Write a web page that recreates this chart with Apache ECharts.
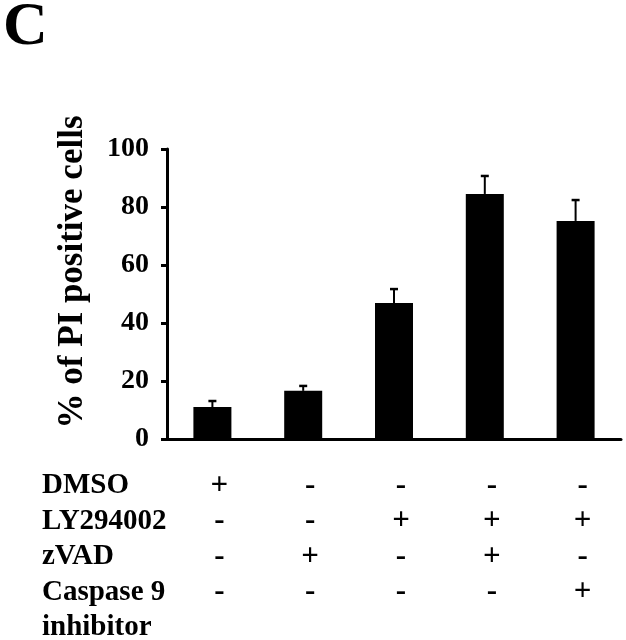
<!DOCTYPE html>
<html>
<head>
<meta charset="utf-8">
<script src="https://cdn.jsdelivr.net/npm/echarts@6/dist/echarts.min.js"></script>
<style>
html,body{margin:0;padding:0;background:#fff;}
#chart{width:626px;height:640px;}
</style>
</head>
<body>
<div id="chart"></div>
<script>
// ---- data ----
const categories = ['DMSO', 'zVAD', 'LY294002', 'LY294002 + zVAD', 'LY294002 + Caspase 9 inhibitor'];
const pctMean = [11.0, 16.6, 46.9, 84.5, 75.2];
const pctErr = [2.1, 1.7, 4.8, 6.2, 7.2];
const rowNames = ['DMSO', 'LY294002', 'zVAD', 'Caspase 9', 'inhibitor'];
const dmso  = ['+', '-', '-', '-', '-'];
const ly    = ['-', '-', '+', '+', '+'];
const zvad  = ['-', '+', '-', '+', '-'];
const casp9 = ['-', '-', '-', '-', '+'];
const yTicks = [0, 20, 40, 60, 80, 100];
const panelLetter = 'C';
const yTitle = '% of PI positive cells';

// ---- chart ----
const FONT = '"Liberation Serif", "Times New Roman", serif';
const chart = echarts.init(document.getElementById('chart'), null, {renderer: 'canvas'});
const errData = categories.map((c, i) => [i, pctMean[i], pctMean[i] + pctErr[i]]);

chart.setOption({
  animation: false,
  backgroundColor: '#fff',
  grid: {left: 167, right: 5, top: 149, bottom: 201, containLabel: false},
  xAxis: {
    type: 'category',
    data: categories,
    axisLine: {lineStyle: {color: '#000', width: 3}},
    axisTick: {show: false},
    axisLabel: {
      interval: 0,
      margin: 29,
      color: '#000',
      fontFamily: FONT,
      fontWeight: 'bold',
      fontSize: 31,
      lineHeight: 35.5,
      padding: [0, 0, 0, 14],
      formatter: (v, i) => [dmso[i], ly[i], zvad[i], casp9[i]].join('\n')
    }
  },
  yAxis: {
    type: 'value',
    min: yTicks[0],
    max: yTicks[yTicks.length - 1],
    interval: yTicks[1] - yTicks[0],
    splitLine: {show: false},
    axisLine: {show: true, lineStyle: {color: '#000', width: 3}},
    axisTick: {show: true, inside: false, length: 6, lineStyle: {color: '#000', width: 3}},
    axisLabel: {
      margin: 18,
      color: '#000',
      fontFamily: FONT,
      fontWeight: 'bold',
      fontSize: 28
    }
  },
  graphic: [
    {
      type: 'text', left: 3, top: -3,
      style: {text: panelLetter, font: 'bold 62px ' + FONT, fill: '#000'}
    },
    {
      type: 'text', x: 73, y: 272, rotation: Math.PI / 2,
      style: {text: yTitle, font: 'bold 35px ' + FONT, fill: '#000', align: 'center', verticalAlign: 'middle'}
    },
    {
      type: 'text', left: 42, top: 468,
      style: {text: rowNames.join('\n'), font: 'bold 29px ' + FONT, fill: '#000', lineHeight: 35.5}
    }
  ],
  series: [
    {
      type: 'bar',
      data: pctMean,
      barWidth: 38,
      itemStyle: {color: '#000'},
      z: 2
    },
    {
      type: 'custom',
      data: errData,
      z: 3,
      renderItem: (params, api) => {
        const base = api.coord([api.value(0), api.value(1)]);
        const top = api.coord([api.value(0), api.value(2)]);
        const cap = 4;
        return {
          type: 'group',
          children: [
            {type: 'line', shape: {x1: base[0], y1: base[1], x2: top[0], y2: top[1]}, style: {stroke: '#000', lineWidth: 2}},
            {type: 'line', shape: {x1: top[0] - cap, y1: top[1], x2: top[0] + cap, y2: top[1]}, style: {stroke: '#000', lineWidth: 2.5}}
          ]
        };
      }
    }
  ]
});
</script>
</body>
</html>
